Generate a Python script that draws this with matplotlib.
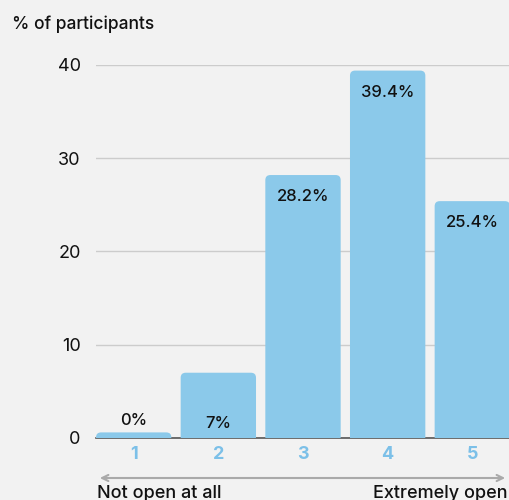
import matplotlib.pyplot as plt
from matplotlib.patches import FancyBboxPatch

# survey results: openness rating 1-5
ratings = ['1', '2', '3', '4', '5']
percent = [0, 7, 28.2, 39.4, 25.4]
value_labels = ['0%', '7%', '28.2%', '39.4%', '25.4%']
y_ticks = [0, 10, 20, 30, 40]

plt.rcParams['font.family'] = ['Inter', 'DejaVu Sans']

bg = '#f2f2f2'
bar_color = '#8bc9ea'
tick_color = '#7cc0e8'

fig = plt.figure(figsize=(5.1, 5.0), dpi=100, facecolor=bg)
ax = fig.add_axes([96 / 510, 62 / 500, 414 / 510, 373 / 500], facecolor=bg)

width = 0.89
xs = list(range(1, len(ratings) + 1))
for x, v in zip(xs, percent):
    h = max(v, 0.6)  # keep a sliver visible for empty categories
    patch = FancyBboxPatch((x - width / 2, -2), width, h + 2,
                           boxstyle='round,pad=0,rounding_size=0.06',
                           mutation_aspect=9, facecolor=bar_color,
                           edgecolor='none', zorder=3)
    ax.add_patch(patch)

# value labels inside tall bars, above short ones
for x, v, lab in zip(xs, percent, value_labels):
    if v > 10:
        y, va = v - 2.3, 'center'
    else:
        y, va = 1.9 - v * 0.05, 'center'
    ax.text(x, y, lab, ha='center', va=va, fontsize=12, color='#111111',
            fontweight='medium', zorder=4)

ax.set_xlim(0.5 + (1 - width) / 2, 5.5 - (1 - width) / 2)
ax.set_ylim(0, 40)
ax.set_yticks(y_ticks)
ax.set_yticklabels([str(t) for t in y_ticks], fontsize=13, color='#111111')
ax.set_xticks(xs)
ax.set_xticklabels(ratings, fontsize=13, fontweight='bold', color=tick_color)
ax.tick_params(axis='both', length=0)
ax.tick_params(axis='y', pad=11)
ax.tick_params(axis='x', pad=6)
ax.grid(axis='y', color='#cccccc', linewidth=1, zorder=0)
ax.set_axisbelow(True)
for s in ['top', 'right', 'left']:
    ax.spines[s].set_visible(False)
ax.spines['bottom'].set_color('#555555')
ax.spines['bottom'].set_linewidth(1.2)
ax.spines['bottom'].set_zorder(1)

fig.text(12 / 510, 1 - 24 / 500, '% of participants', fontsize=12.5,
         fontweight='medium', va='center', ha='left', color='#111111')

# scale direction arrow
ax.annotate('', xy=(1 - 2 / 414, -40 / 373), xytext=(1 / 414, -40 / 373),
            xycoords='axes fraction',
            arrowprops=dict(arrowstyle='<->,head_length=0.45,head_width=0.22',
                            color='#aaaaaa', lw=1.5), annotation_clip=False)
fig.text(97 / 510, 1 - 494 / 500, 'Not open at all', fontsize=13,
         fontweight='medium', va='center', ha='left', color='#111111')
fig.text(373 / 510, 1 - 494 / 500, 'Extremely open', fontsize=13,
         fontweight='medium', va='center', ha='left', color='#111111')

fig.savefig('out.png', dpi=100, facecolor=bg)
